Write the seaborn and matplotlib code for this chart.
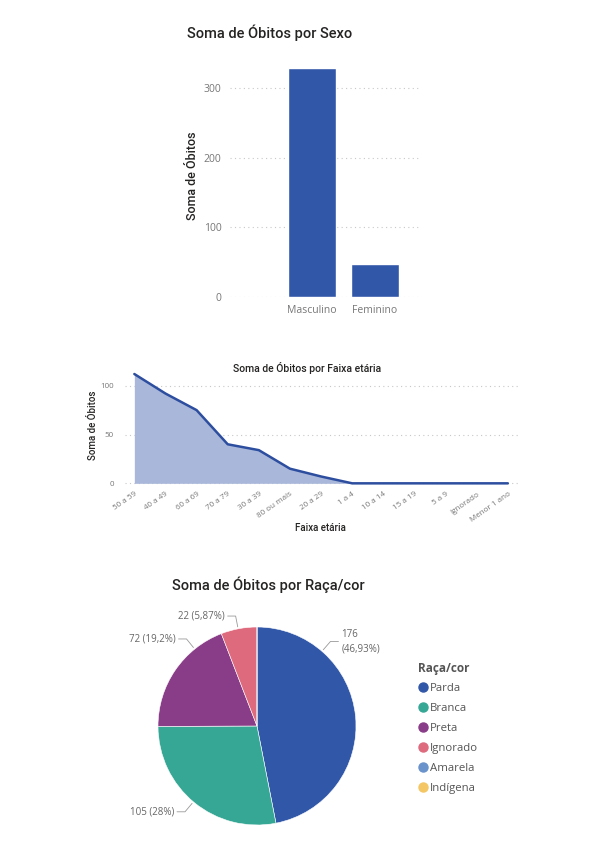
import numpy as np
import pandas as pd
import matplotlib
matplotlib.use("Agg")
import matplotlib.pyplot as plt
from matplotlib.lines import Line2D
import seaborn as sns

# dados
sexo = ["Masculino", "Feminino"]
obitos_sexo = [328, 47]

faixas = ["50 a 59", "40 a 49", "60 a 69", "70 a 79", "30 a 39", "80 ou mais",
          "20 a 29", "1 a 4", "10 a 14", "15 a 19", "5 a 9", "Ignorado", "Menor 1 ano"]
obitos_faixa = [112, 92, 75, 40, 34, 15, 7, 0, 0, 0, 0, 0, 0]

racas = ["Parda", "Branca", "Preta", "Ignorado", "Amarela", "Indígena"]
obitos_raca = [176, 105, 72, 22, 0, 0]
cores_raca = ["#3157A8", "#37A795", "#893C87", "#DE6A7E", "#6A93CC", "#F4C764"]

sns.set_theme(style="white")
plt.rcParams["font.family"] = ["Open Sans", "DejaVu Sans"]

TITULO = ["Roboto", "DejaVu Sans"]
ESCURO = "#252423"
CINZA = "#777777"
AZUL = "#3157A8"

fig = plt.figure(figsize=(6.01, 8.5), dpi=100)
W, H = 601, 850


def eixo(x0, y0, x1, y1):
    # caixa em pixels (topo-esquerda) -> fração da figura
    return fig.add_axes([x0 / W, 1 - y1 / H, (x1 - x0) / W, (y1 - y0) / H])


def grade(ax, ticks):
    for t in ticks:
        ax.axhline(t, color="#c8c8c8", lw=0.8, ls=(0, (1, 3)), zorder=0)


# ---- barras por sexo ----
ax1 = eixo(230, 60, 420, 297)
df_sexo = pd.DataFrame({"Sexo": sexo, "Obitos": obitos_sexo})
sns.barplot(data=df_sexo, x="Sexo", y="Obitos", color=AZUL, saturation=1,
            width=0.76, ax=ax1, zorder=2)
ax1.set_xlim(-1.30, 1.716)
ax1.set_ylim(0, 340)
grade(ax1, [0, 100, 200, 300])
ax1.set_yticks([0, 100, 200, 300])
ax1.tick_params(axis="both", length=0, labelsize=7.5, colors=CINZA, pad=6)
ax1.set_xlabel("")
ax1.set_ylabel("")
sns.despine(ax=ax1, left=True, bottom=True)
fig.text(193 / W, 1 - 176 / H, "Soma de Óbitos", rotation=90, ha="center", va="center",
         fontsize=9, color=ESCURO, family=TITULO, weight="medium")
fig.text(187 / W, 1 - 33 / H, "Soma de Óbitos por Sexo", ha="left", va="center",
         fontsize=10.5, color=ESCURO, family=TITULO, weight="medium")

# ---- área por faixa etária ----
ax2 = eixo(125, 366.2, 520, 484.8)
df_faixa = pd.DataFrame({"Faixa": faixas, "Obitos": obitos_faixa})
pos = np.arange(len(faixas))
ax2.fill_between(pos, obitos_faixa, 0, color="#A9B8DA", lw=0, zorder=1)
sns.lineplot(x=pos, y=df_faixa["Obitos"], color="#2D4E9F", lw=1.8, ax=ax2,
             sort=False, zorder=3)
ax2.set_xlim(-0.3, len(faixas) - 1 + 0.39)
ax2.set_ylim(-1.5, 120)
grade(ax2, [0, 50, 100])
ax2.set_yticks([0, 50, 100])
ax2.set_xticks(pos)
ax2.set_xticklabels(faixas, rotation=35, ha="right", rotation_mode="anchor")
ax2.tick_params(axis="y", length=0, labelsize=5.8, colors=CINZA, pad=8)
ax2.tick_params(axis="x", length=0, labelsize=5.8, colors=CINZA, pad=4)
ax2.set_xlabel("")
ax2.set_ylabel("")
sns.despine(ax=ax2, left=True, bottom=True)
fig.text(93 / W, 1 - 425 / H, "Soma de Óbitos", rotation=90, ha="center", va="center",
         fontsize=7, color=ESCURO, family=TITULO, weight="medium")
fig.text(320 / W, 1 - 528 / H, "Faixa etária", ha="center", va="center",
         fontsize=7, color=ESCURO, family=TITULO, weight="medium")
fig.text(307 / W, 1 - 368 / H, "Soma de Óbitos por Faixa etária", ha="center", va="center",
         fontsize=7.5, color=ESCURO, family=TITULO, weight="medium")

# ---- pizza por raça/cor ----
ax3 = eixo(147, 616, 367, 836)
wedges, _ = ax3.pie(obitos_raca, colors=cores_raca, startangle=90, counterclock=False,
                    radius=0.99, wedgeprops=dict(edgecolor="white", lw=0.4))
ax3.set_xlim(-1.1, 1.1)
ax3.set_ylim(-1.1, 1.1)
ax3.set_aspect("equal")

total = sum(obitos_raca)
angulos_rotulo = [49, -130, 129, 101]  # ângulo (graus) de cada rótulo
for v, ang in zip(obitos_raca, angulos_rotulo):
    p = v / total * 100
    ptxt = f"{p:.2f}".rstrip("0").rstrip(".").replace(".", ",")
    a = np.deg2rad(ang)
    x0, y0 = 1.01 * np.cos(a), 1.01 * np.sin(a)
    x1, y1 = 1.12 * np.cos(a), 1.12 * np.sin(a)
    lado = 1 if np.cos(a) > 0 else -1
    x2 = x1 + lado * 0.08
    ax3.plot([x0, x1, x2], [y0, y1, y1], color="#999999", lw=0.6, clip_on=False)
    if lado > 0:
        txt = f"{v}\n({ptxt}%)"
    else:
        txt = f"{v} ({ptxt}%)"
    ax3.text(x2 + lado * 0.03, y1, txt, ha="left" if lado > 0 else "right", va="center",
             fontsize=7, color="#666666", linespacing=1.4)

fig.text(172 / W, 1 - 585 / H, "Soma de Óbitos por Raça/cor", ha="left", va="center",
         fontsize=10.5, color=ESCURO, family=TITULO, weight="medium")

alcas = [Line2D([], [], marker="o", ls="", markersize=6.5, markerfacecolor=c,
                markeredgecolor=c) for c in cores_raca]
leg = fig.legend(alcas, racas, title="Raça/cor", loc="upper left",
                 bbox_to_anchor=(413 / W, 1 - 657 / H), frameon=False,
                 fontsize=8.2, title_fontsize=8.5, handletextpad=0.05,
                 handlelength=1.0, labelspacing=0.78, borderaxespad=0)
leg._legend_box.align = "left"
leg.get_title().set_fontweight("bold")
leg.get_title().set_color("#555555")
for t in leg.get_texts():
    t.set_color("#555555")

fig.savefig("out.png", dpi=100)
